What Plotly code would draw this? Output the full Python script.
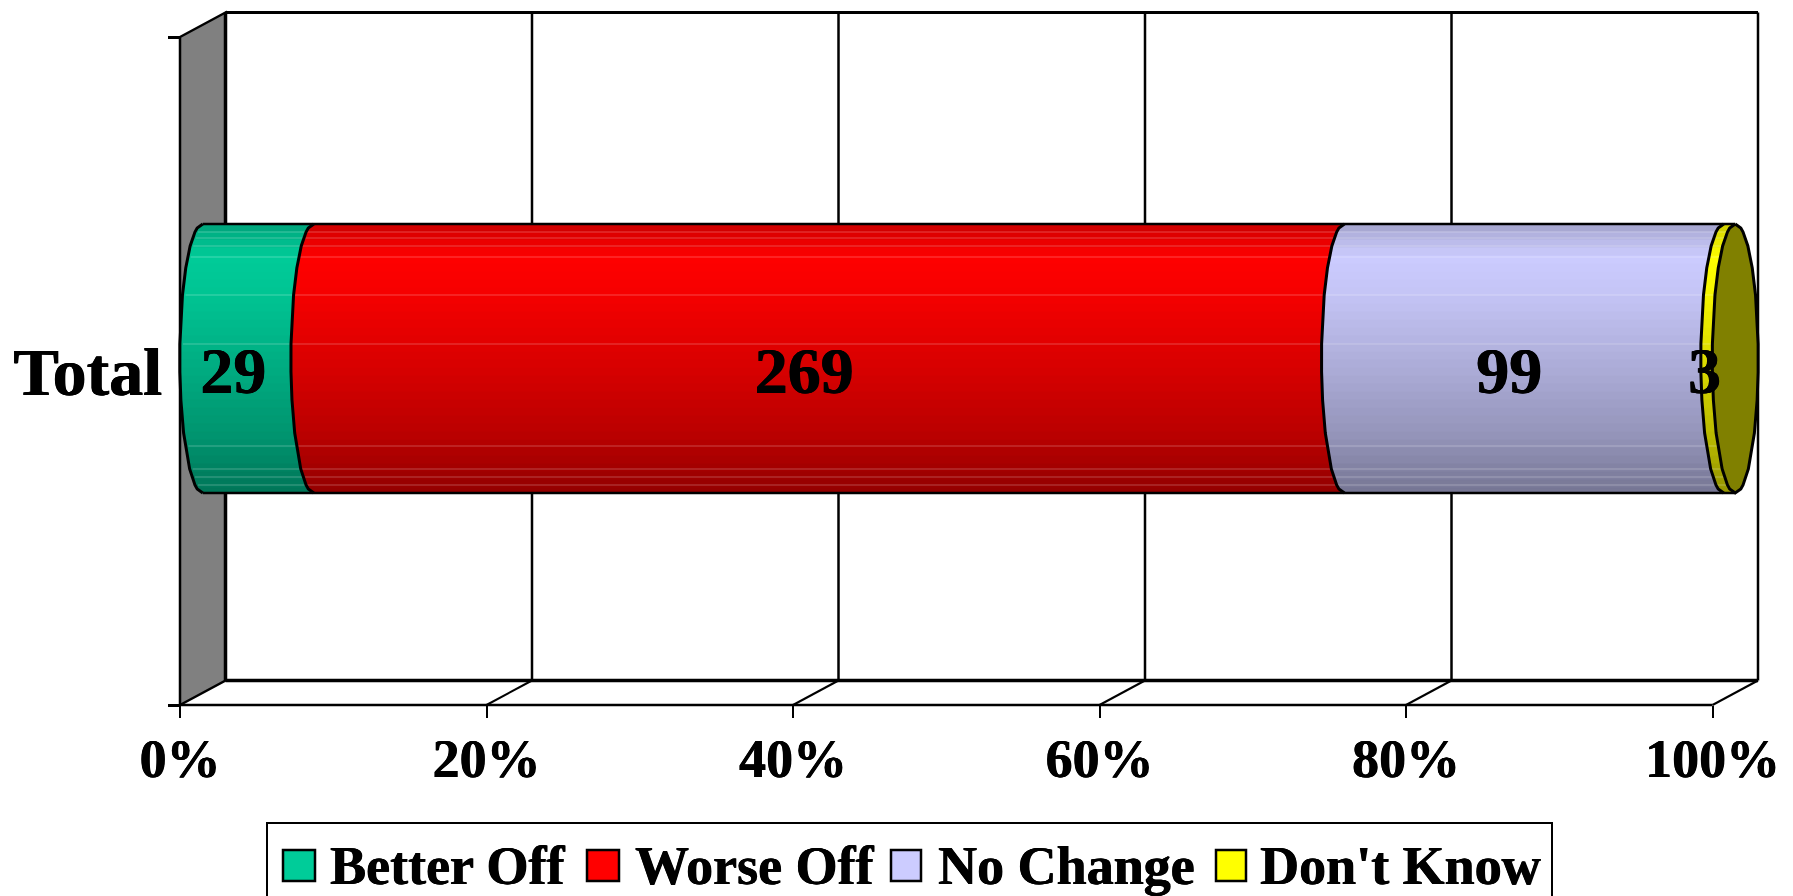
import numpy as np
import plotly.graph_objects as go

# data
categories = ["Total"]
series_names = ["Better Off", "Worse Off", "No Change", "Don't Know"]
better_off = [29]
worse_off = [269]
no_change = [99]
dont_know = [3]
x_ticks = [0, 20, 40, 60, 80, 100]
x_tick_labels = ["0%", "20%", "40%", "60%", "80%", "100%"]

# style
W, H = 1793, 896
FONT = "Liberation Serif"
HEAVY = "0.6px 0 0 black, -0.3px 0 0 black"
colors = [(0, 204, 153), (255, 0, 0), (204, 204, 255), (255, 255, 0)]
X0, X100 = 180, 1712.5
Y_TOP, Y_BOTTOM = 37, 705
DEPTH_PX, DEPTH_Y = 45.5, 24.5
BAR_TOP, BAR_BOTTOM = 224, 493
CYL_RX = 23
PX = (X100 - X0) / 100  # pixels per percent
depth = DEPTH_PX / PX
rx = CYL_RX / PX
cy = (BAR_TOP + BAR_BOTTOM) / 2
ry = (BAR_BOTTOM - BAR_TOP) / 2

# facet rows of the cylinder, seams show as faint light lines in the original
facet_y = np.array([224, 228, 232, 246, 268, 295, 344, 372, 400, 433, 469, 485, 489, 493], dtype=float)
seam_y = [232, 238, 246, 257, 295, 344, 446, 469, 477, 485]
band_y = np.arange(BAR_TOP, BAR_BOTTOM + 8, 8.0)
band_y[-1] = BAR_BOTTOM


def arc(p, ys):
    # left half of the cylinder's cross section at percent p
    t = np.clip((np.asarray(ys) - cy) / ry, -1, 1)
    return p + depth / 2 - rx * np.sqrt(1 - t ** 2)


def arc_facets(p, ys):
    return np.interp(ys, facet_y, arc(p, facet_y))


def shade(y):
    return np.interp(y, [224, 240, 257, 290, 372, 440, 493], [0.8, 0.9, 1.0, 0.97, 0.84, 0.72, 0.58])


def line(xs, ys, width=2):
    return go.Scatter(x=xs, y=ys, mode="lines", line=dict(color="black", width=width),
                      hoverinfo="skip", showlegend=False)


values = np.array([better_off[0], worse_off[0], no_change[0], dont_know[0]], dtype=float)
total = values.sum()
edges = np.concatenate([[0], np.cumsum(values)]) / total * 100
mids = (edges[:-1] + edges[1:]) / 2

fig = go.Figure()

# side wall and back wall
fig.add_trace(go.Scatter(x=[0, depth, depth, 0, 0], y=[Y_TOP, Y_TOP - DEPTH_Y, Y_BOTTOM - DEPTH_Y, Y_BOTTOM, Y_TOP],
                         mode="lines", fill="toself", fillcolor="#808080", line=dict(color="black", width=2.5),
                         hoverinfo="skip", showlegend=False))
fig.add_trace(line([depth, depth], [Y_TOP - DEPTH_Y, Y_BOTTOM - DEPTH_Y], 3.5))
fig.add_trace(line([depth, 100 + depth], [Y_TOP - DEPTH_Y, Y_TOP - DEPTH_Y], 3))
fig.add_trace(line([depth, 100 + depth], [Y_BOTTOM - DEPTH_Y, Y_BOTTOM - DEPTH_Y], 3.5))
fig.add_trace(line([0, 100], [Y_BOTTOM, Y_BOTTOM], 2.5))
for t in x_ticks[1:]:
    fig.add_trace(line([t + depth, t + depth], [Y_TOP - DEPTH_Y, Y_BOTTOM - DEPTH_Y], 2.5))
    fig.add_trace(line([t, t + depth], [Y_BOTTOM, Y_BOTTOM - DEPTH_Y], 2))

# cylinder, one polygon per band per series
for i, c in enumerate(colors):
    for y0, y1 in zip(band_y[:-1], band_y[1:]):
        s = shade((y0 + y1) / 2)
        col = "rgb(%d,%d,%d)" % tuple(v * s for v in c)
        ys = [y0, y1, y1, y0, y0]
        xs = [arc_facets(edges[i], y0), arc_facets(edges[i], y1),
              arc_facets(edges[i + 1], y1), arc_facets(edges[i + 1], y0), arc_facets(edges[i], y0)]
        fig.add_trace(go.Scatter(x=xs, y=ys, mode="lines", fill="toself", fillcolor=col,
                                 line=dict(color=col, width=1), hoverinfo="skip", showlegend=False))

for y in seam_y:
    fig.add_trace(go.Scatter(x=[arc(0, y) + 0.2, arc(100, y)], y=[y, y], mode="lines",
                             line=dict(color="rgba(255,255,255,0.28)", width=1),
                             hoverinfo="skip", showlegend=False))

# outlines
fig.add_trace(line([edges[0] + depth / 2, edges[-1] + depth / 2], [BAR_TOP, BAR_TOP], 2.5))
fig.add_trace(line([edges[0] + depth / 2, edges[-1] + depth / 2], [BAR_BOTTOM, BAR_BOTTOM], 2.5))
for e in edges[:-1]:
    fig.add_trace(line(arc(e, facet_y), facet_y, 3))

# end cap
cap_x = np.concatenate([arc(100, facet_y), (2 * (100 + depth / 2) - arc(100, facet_y))[::-1]])
cap_y = np.concatenate([facet_y, facet_y[::-1]])
fig.add_trace(go.Scatter(x=cap_x, y=cap_y, mode="lines", fill="toself", fillcolor="#808000",
                         line=dict(color="black", width=3), hoverinfo="skip", showlegend=False))

# data labels
fig.add_trace(go.Scatter(x=mids - 0.15, y=[376.5] * 4, mode="text", text=[str(int(v)) for v in values],
                         textposition="middle center",
                         textfont=dict(family=FONT, size=66, color="black", weight="bold", shadow=HEAVY),
                         hoverinfo="skip", showlegend=False))

# legend, drawn by hand because native swatches stop at a small size
swatch_x = [283, 587, 891, 1216]
swatch_w = [32, 32, 30, 30]
label_x = [330, 635, 938, 1260]
shapes = [dict(type="rect", xref="paper", yref="paper", x0=267 / W, x1=1552 / W, y0=1 - 905 / H, y1=1 - 823 / H,
               line=dict(color="black", width=2), fillcolor="white")]
annotations = []
for sx, sw, lx, name, c in zip(swatch_x, swatch_w, label_x, series_names, colors):
    shapes.append(dict(type="rect", xref="paper", yref="paper", x0=sx / W, x1=(sx + sw) / W,
                       y0=1 - 881 / H, y1=1 - 850 / H, line=dict(color="black", width=2.5),
                       fillcolor="rgb(%d,%d,%d)" % c))
    annotations.append(dict(text=name, xref="paper", yref="paper", x=lx / W, y=1 - 866 / H, xanchor="left",
                            yanchor="middle", showarrow=False, xshift=-2,
                            font=dict(family=FONT, size=54, color="black", weight="bold", shadow=HEAVY)))

fig.update_layout(
    width=W, height=H, margin=dict(l=0, r=0, t=0, b=0), autosize=False,
    paper_bgcolor="white", plot_bgcolor="white", showlegend=False,
    shapes=shapes, annotations=annotations,
    xaxis=dict(range=[-X0 / PX, (W - X0) / PX], tickvals=x_ticks, ticktext=x_tick_labels,
               anchor="free", position=1 - Y_BOTTOM / H, showgrid=False, zeroline=False, showline=False,
               ticks="outside", ticklen=12, tickwidth=2, tickcolor="black", ticklabelstandoff=-6,
               tickfont=dict(family=FONT, size=54, color="black", weight="bold", shadow=HEAVY)),
    yaxis=dict(range=[H, 0], tickvals=[(Y_TOP + Y_BOTTOM) / 2], ticktext=categories,
               anchor="free", position=X0 / W, showgrid=False, zeroline=False, showline=False,
               ticks="", ticklabelstandoff=18,
               minor=dict(tickvals=[Y_TOP, Y_BOTTOM], ticks="outside", ticklen=12, tickwidth=2.5, tickcolor="black", showgrid=False),
               tickfont=dict(family=FONT, size=68, color="black", weight="bold", shadow=HEAVY)),
)

fig.write_html("out.html", config={"displayModeBar": False},
               post_script="document.body.style.margin='0';document.body.style.overflow='hidden';")
